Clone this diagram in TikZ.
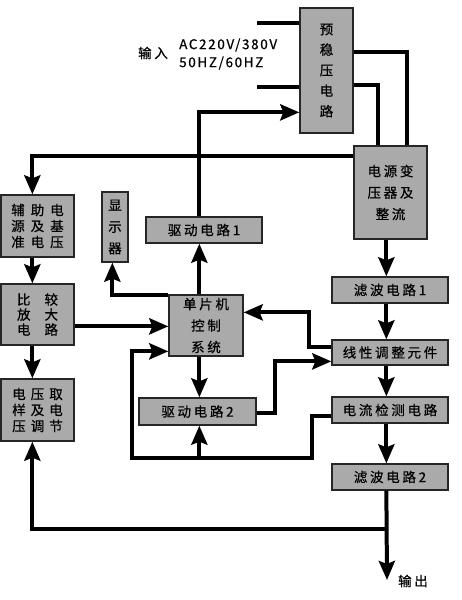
\documentclass[tikz,border=0pt]{standalone}
\usepackage{fontspec}
\setmainfont{Noto Sans CJK SC}[FakeBold=0.6]
\newfontfamily\boxfont[LetterSpace=20,FakeBold=0.6]{Noto Sans CJK SC}
\newfontfamily\latfont[LetterSpace=12,FakeBold=0.6]{Noto Sans CJK SC}
\usetikzlibrary{arrows.meta,calc}
\definecolor{boxgray}{RGB}{170,170,170}
\begin{document}
\begin{tikzpicture}[x=1pt,y=-1pt,
  box/.style={draw=black!85,line width=1.3pt,fill=boxgray,inner sep=0pt,align=center,
    font=\boxfont\fontsize{13.5}{21.5}\selectfont},
  grid/.style={box,font=\fontsize{13.5}{16}\selectfont},
  conn/.style={line width=4pt},
  arr/.style={conn,-{Stealth[length=19pt,width=16pt,inset=3pt]}},
  lab/.style={inner sep=0pt,font=\boxfont\fontsize{13.5}{16}\selectfont}
]
\useasboundingbox (0,0) rectangle (461,600);
% boxes
\node[box,minimum width=53pt,minimum height=125pt,font=\fontsize{13.5}{20.5}\selectfont] (pre) at (326.5,70.5) {预\\稳\\压\\电\\路};
\node[box,minimum width=73pt,minimum height=93pt] (trans) at (390.5,192.5) {电源变\\压器及\\整流};
\node[grid,minimum width=73pt,minimum height=62pt] (aux) at (37.5,226) {辅\hspace{6pt}助\hspace{6pt}电\\源\hspace{6pt}及\hspace{6pt}基\\准\hspace{6pt}电\hspace{6pt}压};
\node[box,minimum width=26pt,minimum height=70pt] (disp) at (115,227) {显\\示\\器};
\node[box,minimum width=116pt,minimum height=26pt] (drv1) at (204,230) {驱动电路1};
\node[box,minimum width=116pt,minimum height=26pt] (flt1) at (390,290) {滤波电路1};
\node[grid,minimum width=73pt,minimum height=61pt,font=\fontsize{13.5}{15}\selectfont] (cmp) at (37.5,314.5) {比\hspace{14pt}较\\放\hspace{14pt}大\\电\hspace{14pt}路};
\node[box,minimum width=74pt,minimum height=61pt] (mcu) at (206,325.5) {单片机\\控制\\系统};
\node[box,minimum width=116pt,minimum height=25pt] (lin) at (390,352.5) {线性调整元件};
\node[box,minimum width=117pt,minimum height=27pt] (drv2) at (197.5,411.5) {驱动电路2};
\node[box,minimum width=116pt,minimum height=26pt] (cur) at (390,410) {电流检测电路};
\node[grid,minimum width=73pt,minimum height=62pt] (vs) at (37.5,410) {电\hspace{5pt}压\hspace{5pt}取\\样\hspace{5pt}及\hspace{5pt}电\\压\hspace{5pt}调\hspace{5pt}节};
\node[box,minimum width=116pt,minimum height=26pt] (flt2) at (390,477) {滤波电路2};
% labels
\node[lab] (inlab) at (153,53) {输入};
\node[lab,anchor=west,font=\latfont\fontsize{13.5}{16}\selectfont] (acv) at (179,45) {AC220V/380V};
\node[lab,anchor=west,font=\latfont\fontsize{13.5}{16}\selectfont] (hz) at (179,63) {50HZ/60HZ};
\node[lab] (outlab) at (413,581) {输出};
% free ends
\coordinate (inA) at (257,23);
\coordinate (inB) at (257,87);
\coordinate (out) at (387,580);
% connectors
\draw[conn] (inA) -- (inA -| pre.west);
\draw[conn] (inB) -- (inB -| pre.west);
\draw[conn] ($(pre.north east)+(0,45)$) -| ($(trans.north east)+(-21,0)$);
\draw[conn] ($(pre.north east)+(0,78)$) -| ($(trans.north west)+(25,0)$);
\draw[arr] ($(trans.north west)+(0,11)$) -| ($(aux.north west)+(32,0)$);
\draw[arr] ($(drv1.north west)+(54,0)$) |- ($(pre.north west)+(0,105)$);
\draw[arr] ($(mcu.north west)+(31,0)$) -- ($(drv1.south west)+(54,0)$);
\draw[arr] ($(mcu.north west)+(0,1)$) -| ($(disp.south west)+(11,0)$);
\draw[arr] ($(aux.south west)+(32,0)$) -- ($(cmp.north west)+(32,0)$);
\draw[arr] ($(cmp.north east)+(0,43)$) -- ($(mcu.north west)+(0,32)$);
\draw[arr] ($(cmp.south west)+(32,0)$) -- ($(vs.north west)+(32,0)$);
\draw[arr] ($(trans.south west)+(33,0)$) -- ($(flt1.north west)+(55,0)$);
\draw[arr] ($(flt1.south west)+(55,0)$) -- ($(lin.north west)+(55,0)$);
\draw[arr] ($(lin.north west)+(0,8)$) -- ++(-22,0) |- ($(mcu.north east)+(0,18)$);
\draw[arr] ($(mcu.south west)+(31,0)$) -- ($(drv2.north west)+(61,0)$);
\draw[arr] ($(drv2.north east)+(0,16)$) -- ++(18,0) |- ($(lin.north west)+(0,22)$);
\draw[arr] ($(lin.south west)+(55,0)$) -- ($(cur.north west)+(55,0)$);
\draw[arr] ($(cur.north west)+(0,20)$) -- ++(-19,0) -- ++(0,42) -- ++(-113,0) coordinate (fbm) -- ++(-67,0) |- ($(mcu.north west)+(0,57)$);
\draw[arr] (fbm) -- ($(drv2.south west)+(61,0)$);
\draw[arr] ($(cur.south west)+(55,0)$) -- ($(flt2.north west)+(55,0)$);
\draw[arr] ($(flt2.south west)+(55,0)$) -- (out);
\draw[arr] ($(flt2.south west)+(55,38)$) -| ($(vs.south west)+(32,0)$);
\end{tikzpicture}
\end{document}
